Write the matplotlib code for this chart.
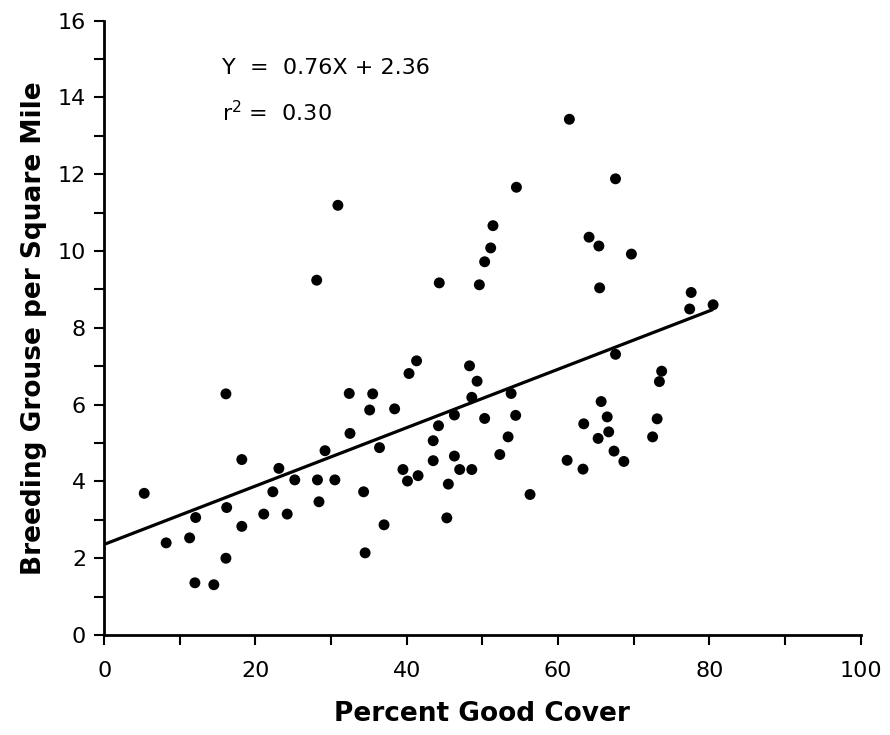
import matplotlib
matplotlib.use("Agg")
import matplotlib.pyplot as plt
import numpy as np

plt.rcParams['font.family'] = ['DejaVu Sans']

# percent good cover (x) and breeding grouse per square mile (y)
cover = [5.3, 8.2, 11.3, 12.0, 12.1, 14.5, 16.1, 16.1, 16.2, 18.2,
         18.2, 21.1, 22.3, 23.1, 24.2, 25.2, 28.1, 28.2, 28.4, 29.2,
         30.5, 30.9, 32.4, 32.5, 34.3, 34.5, 35.1, 35.5, 36.4, 37.0,
         38.4, 39.5, 40.1, 40.3, 41.3, 41.5, 43.5, 43.5, 44.2, 44.3,
         45.3, 45.5, 46.3, 46.3, 47.0, 48.3, 48.6, 48.6, 49.3, 49.6,
         50.3, 50.3, 51.1, 51.4, 52.3, 53.4, 53.8, 54.4, 54.5, 56.3,
         61.2, 61.5, 63.3, 63.4, 64.1, 65.3, 65.4, 65.5, 65.7, 66.5,
         66.7, 67.4, 67.6, 67.6, 68.7, 69.7, 72.5, 73.1, 73.4, 73.7,
         77.4, 77.6, 80.5]
grouse = [3.69, 2.40, 2.53, 1.36, 3.06, 1.31, 2.00, 6.28, 3.32, 4.57,
          2.83, 3.15, 3.73, 4.34, 3.15, 4.04, 9.24, 4.04, 3.47, 4.80,
          4.04, 11.19, 6.29, 5.25, 3.73, 2.14, 5.86, 6.28, 4.88, 2.87,
          5.89, 4.31, 4.01, 6.81, 7.14, 4.15, 5.06, 4.54, 5.45, 9.17,
          3.05, 3.93, 5.73, 4.66, 4.31, 7.01, 6.19, 4.31, 6.61, 9.12,
          9.72, 5.64, 10.08, 10.66, 4.70, 5.16, 6.29, 5.72, 11.66, 3.66,
          4.55, 13.43, 4.32, 5.50, 10.36, 5.12, 10.13, 9.04, 6.08, 5.68,
          5.29, 4.79, 11.88, 7.31, 4.52, 9.92, 5.16, 5.63, 6.60, 6.87,
          8.49, 8.92, 8.60]

# regression Y = 0.76X + 2.36, X in tens of percent
slope = 0.76
intercept = 2.36
line_x = np.array([0, 80.3])
line_y = slope * line_x / 10 + intercept

fig = plt.figure(figsize=(8.9, 7.35), dpi=100)
ax = fig.add_axes([0.117, 0.136, 0.850, 0.836])

ax.scatter(cover, grouse, s=62, c='black', edgecolors='none', zorder=3)
ax.plot(line_x, line_y, color='black', linewidth=2.3, zorder=2)

ax.set_xlim(0, 100)
ax.set_ylim(0, 16)
ax.set_xticks(np.arange(0, 101, 20))
ax.set_xticks(np.arange(0, 101, 10), minor=True)
ax.set_yticks(np.arange(0, 17, 2))
ax.set_yticks(np.arange(0, 17, 1), minor=True)

for side in ['top', 'right']:
    ax.spines[side].set_visible(False)
for side in ['left', 'bottom']:
    ax.spines[side].set_linewidth(2)

ax.tick_params(which='both', direction='out', length=7, width=1.5, colors='black')
ax.tick_params(axis='x', which='major', labelsize=16, pad=12)
ax.tick_params(axis='y', which='major', labelsize=16, pad=6)

ax.set_xlabel('Percent Good Cover', fontsize=19, fontweight='bold', labelpad=14)
ax.set_ylabel('Breeding Grouse per Square Mile', fontsize=19, fontweight='bold', labelpad=8)

ax.text(15.6, 14.77, 'Y  =  0.76X + 2.36', fontsize=16, va='center', ha='left')
ax.text(15.6, 13.6, r'r$^{\mathregular{2}}$ =  0.30', fontsize=16, va='center', ha='left')

fig.savefig('out.png', dpi=100)
